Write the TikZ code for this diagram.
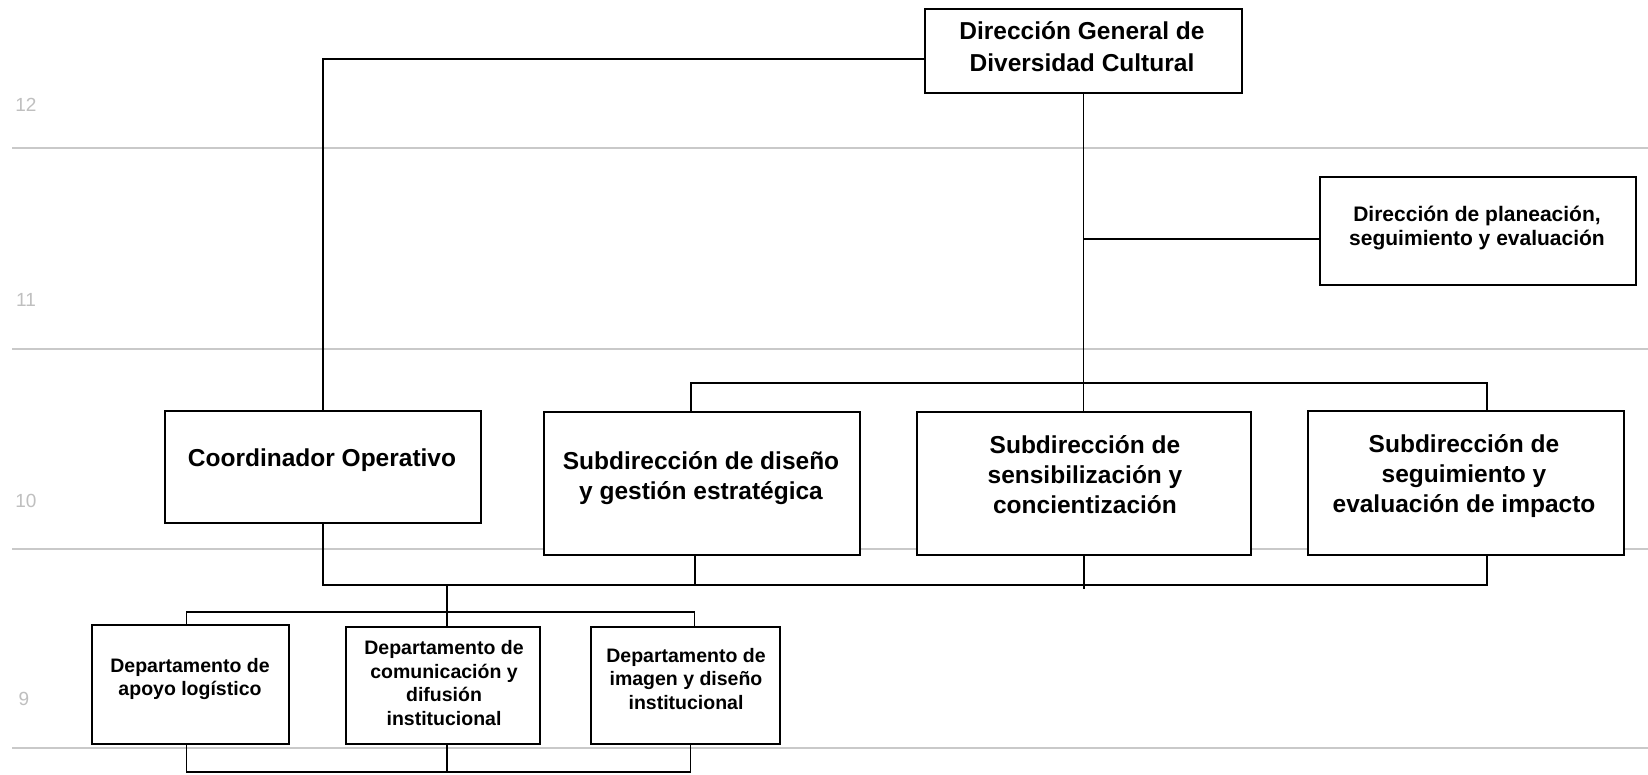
\documentclass[tikz,border=0pt]{standalone}
\usepackage{fontspec}
\setmainfont{Liberation Sans}
\usetikzlibrary{calc}
\begin{document}
\begin{tikzpicture}[x=1pt,y=-1pt,
  box/.style={draw=black, line width=1.8pt, fill=white, anchor=north west, inner sep=0pt},
  conn/.style={draw=black, line width=1.5pt},
  gridline/.style={draw=gray!42, line width=2pt},
  bigtxt/.style={font=\bfseries\fontsize{24.5}{30}\selectfont, align=center, inner sep=0pt},
  toptxt/.style={font=\bfseries\fontsize{24.5}{32}\selectfont, align=center, inner sep=0pt},
  midtxt/.style={font=\bfseries\fontsize{21}{24}\selectfont, align=center, inner sep=0pt},
  smalltxt/.style={font=\bfseries\fontsize{19.5}{23.5}\selectfont, align=center, inner sep=0pt},
  rowlab/.style={font=\fontsize{19}{22}\selectfont, text=gray!50, inner sep=0pt}]
\useasboundingbox (0,0) rectangle (1648,775);
\fill[white] (0,0) rectangle (1648,775);

% background grid lines and row numbers
\draw[gridline] (12,148) -- (1648,148);
\draw[gridline] (12,349) -- (1648,349);
\draw[gridline] (12,549) -- (1648,549);
\draw[gridline] (12,748) -- (1648,748);
\node[rowlab] (l12) at (26,105) {12};
\node[rowlab] (l11) at (26,300) {11};
\node[rowlab] (l10) at (26,501) {10};
\node[rowlab] (l9) at (24,699) {9};

% boxes
\node[box, minimum width=317, minimum height=84] (dg) at (924,8) {};
\node[box, minimum width=316, minimum height=108] (plan) at (1319,176) {};
\node[box, minimum width=316, minimum height=112] (coord) at (164,410) {};
\node[box, minimum width=316, minimum height=143] (dis) at (543,411) {};
\node[box, minimum width=334, minimum height=143] (sen) at (916,411) {};
\node[box, minimum width=316, minimum height=144] (seg) at (1307,410) {};
\node[box, minimum width=197, minimum height=119] (apo) at (91,624) {};
\node[box, minimum width=194, minimum height=117] (com) at (345,626) {};
\node[box, minimum width=189, minimum height=117] (ima) at (590,626) {};

% texts
\node[toptxt] (dgt) at (1082,47) {Dirección General de\\Diversidad Cultural};
\node[midtxt] (plant) at (1477,228) {Dirección de planeación,\\seguimiento y evaluación};
\node[bigtxt] (coordt) at (322,460) {Coordinador Operativo};
\node[bigtxt] (dist) at (701,478) {Subdirección de diseño\\y gestión estratégica};
\node[bigtxt] (sent) at (1085,475) {Subdirección de\\sensibilización y\\concientización};
\node[bigtxt] (segt) at (1464,476) {Subdirección de\\seguimiento y\\evaluación de impacto};
\node[smalltxt] (apot) at (190,679) {Departamento de\\apoyo logístico};
\node[smalltxt] (comt) at (444,683) {Departamento de\\comunicación y\\difusión\\institucional};
\node[smalltxt] (imat) at (686,679) {Departamento de\\imagen y diseño\\institucional};

% junction coordinates
\coordinate (jp) at (dg.south |- 0,239);
\coordinate (tb) at (dg.south |- 0,383);
\coordinate (bb) at ([xshift=4pt]com.north |- 0,585);
\coordinate (db) at ([xshift=9pt]ima.north |- 0,612);
\coordinate (eb) at ([xshift=5pt]ima.south |- 0,772);

% connectors
\draw[conn] ([yshift=-8pt]dg.west) -| (coord.north);
\draw[conn] (dg.south) -- (dg.south |- sen.north);
\draw[conn] (jp) -- (jp -| plan.west);
\draw[conn] ([xshift=-11pt]dis.north) |- (tb) -| ([xshift=21pt]seg.north);
\draw[conn] (coord.south) |- (bb);
\draw[conn] (bb) -| ([xshift=21pt]seg.south);
\draw[conn] ([xshift=-7pt]dis.south) -- ([xshift=-7pt]dis.south |- bb);
\draw[conn] (sen.south) -- ([yshift=-4pt]sen.south |- bb);
\draw[conn] (bb) -- ([xshift=4pt]com.north);
\draw[conn] ([xshift=-4pt]apo.north) |- (db) -- ([xshift=9pt]ima.north);
\draw[conn] ([xshift=-4pt]apo.south) |- (eb) -- ([xshift=5pt]ima.south);
\draw[conn] ([xshift=4pt]com.south) -- ([xshift=4pt]com.south |- eb);
\end{tikzpicture}
\end{document}
